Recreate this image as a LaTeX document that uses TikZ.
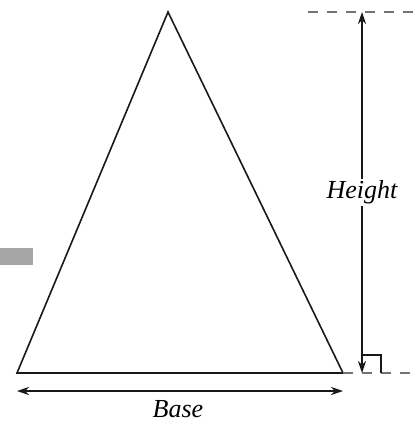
\documentclass[tikz,border=0pt]{standalone}
\usepackage{fontspec}
\setmainfont{Liberation Serif}
\usetikzlibrary{arrows.meta,calc}

\begin{document}
\begin{tikzpicture}[
  x=1pt, y=-1pt,
  >={Stealth[length=12pt,width=8pt]},
  edge/.style={line width=1.6pt, draw=black!90, line join=miter},
  guide/.style={line width=1.4pt, draw=black!55, dash pattern=on 10pt off 9pt},
  dim/.style={<->, line width=1.1pt, draw=black!90},
  lbl/.style={font=\fontsize{26}{30}\selectfont\itshape, fill=white, inner sep=2pt},
]
\useasboundingbox (0,0) rectangle (414,423);

% --- triangle corners ---
\coordinate (apex) at (168,12);
\coordinate (bl) at (17,373);
\coordinate (br) at (343,373);

\draw[edge] (bl) -- (apex) -- (br) -- cycle;

% --- guide lines ---
\coordinate (topL) at (308,12);
\coordinate (topR) at (414,12);
\coordinate (botR) at (414,373);
\draw[guide] (topL) -- (topR);
\draw[guide] (br) -- (botR);

% --- height ---
\coordinate (hTop) at (362,12);
\coordinate (hBot) at (362,373);
\draw[dim] (hBot) -- node[lbl] (height) {Height} (hTop);
\draw[line width=1.1pt, draw=black!90] ($(hBot)+(0,-18)$) -| ($(hBot)+(19,0)$);

% --- base ---
\coordinate (bArrL) at (17,391);
\coordinate (bArrR) at (343,391);
\draw[dim] (bArrL) -- (bArrR);
\node[lbl, fill=none, inner sep=0pt, text depth=0pt, anchor=base] (base) at (178,417) {Base};

% --- gray tab ---
\fill[black!35] (0,248) rectangle (33,265);

\end{tikzpicture}
\end{document}
